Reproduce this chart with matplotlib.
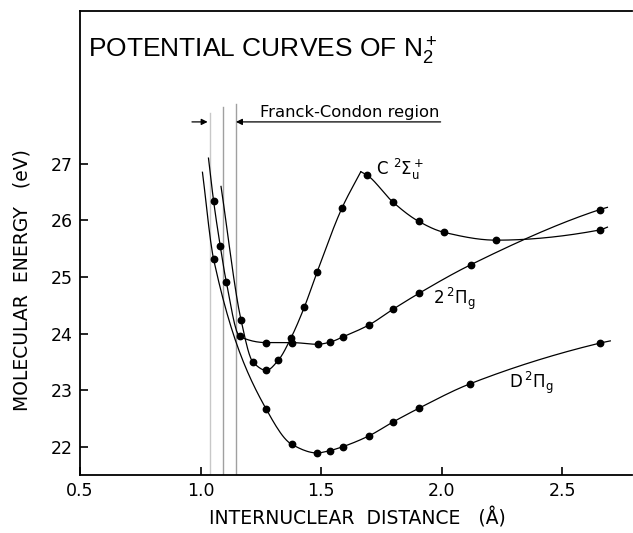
import numpy as np
import matplotlib
matplotlib.use('Agg')
import matplotlib.pyplot as plt
from matplotlib import font_manager

# energies (eV) vs internuclear distance (angstrom), dots on each curve
c_x = [1.168, 1.217, 1.273, 1.323, 1.375, 1.431, 1.483, 1.587, 1.691, 1.799, 1.906, 2.009, 2.227, 2.656]
c_y = [24.24, 23.50, 23.35, 23.53, 23.92, 24.47, 25.08, 26.22, 26.80, 26.32, 25.98, 25.79, 25.65, 25.83]
c_start = (1.085, 26.60)
c_apex = (1.665, 26.86)
c_end = (2.688, 25.88)

pi2_x = [1.054, 1.082, 1.107, 1.162, 1.273, 1.379, 1.486, 1.539, 1.590, 1.698, 1.799, 1.906, 2.123, 2.656]
pi2_y = [26.35, 25.54, 24.91, 23.95, 23.84, 23.84, 23.81, 23.85, 23.94, 24.15, 24.43, 24.71, 25.22, 26.19]
pi2_start = (1.033, 27.10)
pi2_end = (2.688, 26.23)

d_x = [1.054, 1.273, 1.379, 1.483, 1.536, 1.590, 1.698, 1.800, 1.906, 2.117, 2.656]
d_y = [25.32, 22.66, 22.04, 21.89, 21.93, 22.00, 22.19, 22.44, 22.68, 23.11, 23.83]
d_start = (1.008, 26.85)
d_end = (2.700, 23.87)

# Franck-Condon region boundaries
fc_lines = [1.041, 1.093, 1.147]
fc_tops = [27.90, 28.00, 28.05]
fc_colors = ['#c8c8c8', '#a0a0a0', '#a0a0a0']


def pchip(xs, ys, n=200):
  # monotone cubic through the nodes, just for drawing the curve
  x = np.asarray(xs, float)
  y = np.asarray(ys, float)
  h = np.diff(x)
  dl = np.diff(y) / h
  m = np.zeros_like(x)
  for k in range(1, len(x) - 1):
    if dl[k-1] * dl[k] > 0:
      w1 = 2*h[k] + h[k-1]
      w2 = h[k] + 2*h[k-1]
      m[k] = (w1 + w2) / (w1/dl[k-1] + w2/dl[k])
  m[0] = dl[0]
  m[-1] = dl[-1]
  xx = np.linspace(x[0], x[-1], n)
  idx = np.clip(np.searchsorted(x, xx) - 1, 0, len(x) - 2)
  t = (xx - x[idx]) / h[idx]
  h00 = 2*t**3 - 3*t**2 + 1
  h10 = t**3 - 2*t**2 + t
  h01 = -2*t**3 + 3*t**2
  h11 = t**3 - t**2
  yy = h00*y[idx] + h10*h[idx]*m[idx] + h01*y[idx+1] + h11*h[idx]*m[idx+1]
  return xx, yy


def main():
  plt.rcParams['font.family'] = ['DejaVu Sans']
  fig = plt.figure(figsize=(6.33, 5.33), dpi=100)
  ax = fig.add_axes([80/633., 58/533., 552/633., 464/533.])

  lw = 0.9
  # C state: sharp top, so two pieces
  lx = [c_start[0]] + [v for v in c_x if v < c_apex[0]] + [c_apex[0]]
  ly = [c_start[1]] + [c_y[i] for i, v in enumerate(c_x) if v < c_apex[0]] + [c_apex[1]]
  rx = [c_apex[0]] + [v for v in c_x if v > c_apex[0]] + [c_end[0]]
  ry = [c_apex[1]] + [c_y[i] for i, v in enumerate(c_x) if v > c_apex[0]] + [c_end[1]]
  for xs, ys in [(lx, ly), (rx, ry),
                 ([pi2_start[0]] + pi2_x + [pi2_end[0]], [pi2_start[1]] + pi2_y + [pi2_end[1]]),
                 ([d_start[0]] + d_x + [d_end[0]], [d_start[1]] + d_y + [d_end[1]])]:
    xx, yy = pchip(xs, ys)
    ax.plot(xx, yy, color='black', linewidth=lw)

  for xs, ys in [(c_x, c_y), (pi2_x, pi2_y), (d_x, d_y)]:
    ax.plot(xs, ys, 'o', color='black', markersize=4.6, zorder=3)

  for xv, top, col in zip(fc_lines, fc_tops, fc_colors):
    ax.plot([xv, xv], [21.5, top], color=col, linewidth=1.0, zorder=1)

  ya = 27.74
  ax.annotate('', xy=(fc_lines[0], ya), xytext=(0.953, ya),
              arrowprops=dict(arrowstyle='-|>', color='black', lw=0.9, mutation_scale=9))
  ax.annotate('', xy=(fc_lines[-1], ya), xytext=(1.996, ya),
              arrowprops=dict(arrowstyle='-|>', color='black', lw=0.9, mutation_scale=9,
                              shrinkA=0, shrinkB=0))
  ax.text(1.620, ya + 0.03, 'Franck-Condon region', ha='center', va='bottom', fontsize=11.8)

  ax.text(1.73, 26.9, r'C $^2\Sigma_\mathrm{u}^+$', fontsize=12, va='center', ha='left')
  ax.text(1.966, 24.62, r'2$\,^2\Pi_\mathrm{g}$', fontsize=12, va='center', ha='left')
  ax.text(2.278, 23.12, r'D$\,^2\Pi_\mathrm{g}$', fontsize=12, va='center', ha='left')

  # narrow face for the heading if there is one
  names = set(f.name for f in font_manager.fontManager.ttflist)
  if 'Liberation Sans Narrow' in names:
    tfont, tsize = 'Liberation Sans Narrow', 21
  else:
    tfont, tsize = 'Liberation Sans', 19
  ax.text(0.0145, 0.915, r'POTENTIAL CURVES OF N$\mathregular{_2^+}$', transform=ax.transAxes,
          fontsize=tsize, va='center', ha='left', family=[tfont, 'DejaVu Sans'])

  ax.set_xlim(0.5, 2.79)
  ax.set_ylim(21.5, 29.7)
  ax.set_xticks([0.5, 1.0, 1.5, 2.0, 2.5])
  ax.set_yticks([22, 23, 24, 25, 26, 27])
  ax.tick_params(direction='in', length=6, width=1.2, labelsize=12.5, pad=5)
  for s in ['left', 'bottom', 'top']:
    ax.spines[s].set_linewidth(1.3)
  ax.spines['right'].set_visible(False)

  fig.text(357/633., 1 - 518/533., u'INTERNUCLEAR  DISTANCE   (\u00c5)', ha='center', va='center', fontsize=13.5)
  fig.text(22/633., 1 - 280/533., 'MOLECULAR  ENERGY   (eV)', rotation=90, ha='center', va='center', fontsize=13.5)

  plt.savefig('out.png', dpi=100)


if __name__ == '__main__':
  main()
